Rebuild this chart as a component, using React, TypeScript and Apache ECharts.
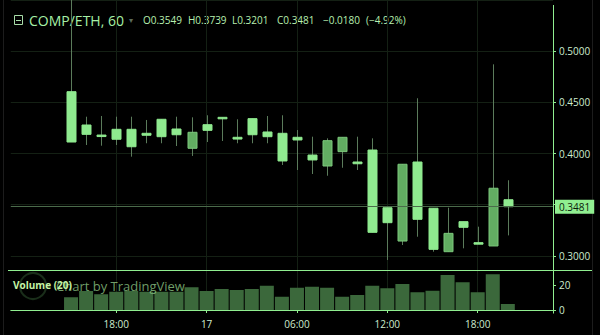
import React, { useEffect, useRef } from "react";
import * as echarts from "echarts";

// hourly categories (11:00 on the 16th to 23:00 on the 17th)
const hours: string[] = [
  "11:00", "12:00", "13:00", "14:00", "15:00", "16:00", "17:00", "18:00", "19:00", "20:00", "21:00", "22:00", "23:00",
  "00:00", "01:00", "02:00", "03:00", "04:00", "05:00", "06:00", "07:00", "08:00", "09:00", "10:00", "11:00",
  "12:00", "13:00", "14:00", "15:00", "16:00", "17:00", "18:00", "19:00", "20:00", "21:00", "22:00", "23:00",
];
const dayLabel = "17";
const firstCandleIndex = 4; // 15:00

const opens: number[] = [
  0.4603, 0.4278, 0.418, 0.4236, 0.4236, 0.4197, 0.4334, 0.4239, 0.4051, 0.4281,
  0.4353, 0.4158, 0.434, 0.421, 0.4197, 0.4158, 0.3985, 0.3878, 0.4018, 0.3917,
  0.4034, 0.3471, 0.3146, 0.3917, 0.3466, 0.3042, 0.3335, 0.313, 0.3098, 0.3549,
];
const closes: number[] = [
  0.4112, 0.4187, 0.4175, 0.4139, 0.4066, 0.4178, 0.4164, 0.4183, 0.4207, 0.4226,
  0.434, 0.4141, 0.4183, 0.4164, 0.3927, 0.4132, 0.3937, 0.4125, 0.4158, 0.39,
  0.3231, 0.3325, 0.3895, 0.3358, 0.3065, 0.3221, 0.328, 0.3117, 0.3661, 0.3481,
];
const lows: number[] = [
  0.4112, 0.4083, 0.4076, 0.4083, 0.3969, 0.41, 0.41, 0.4073, 0.3976, 0.4112,
  0.4122, 0.41, 0.41, 0.41, 0.3888, 0.3839, 0.38, 0.3783, 0.3861, 0.3839,
  0.3231, 0.2961, 0.3107, 0.3188, 0.3042, 0.3042, 0.3075, 0.3117, 0.3098, 0.3201,
];
const highs: number[] = [
  0.555, 0.4359, 0.4366, 0.4359, 0.4359, 0.4327, 0.4334, 0.4359, 0.4353, 0.4373,
  0.4353, 0.4334, 0.434, 0.4366, 0.4373, 0.4229, 0.4164, 0.4148, 0.4158, 0.4164,
  0.4148, 0.3471, 0.3895, 0.4539, 0.3466, 0.3471, 0.3335, 0.3286, 0.487, 0.3739,
];
const volumes: number[] = [
  10.2, 15.2, 12.6, 14.6, 15.2, 14.6, 14.6, 14.6, 18.2, 15.2,
  16.8, 16, 16.8, 19.4, 10.6, 17.8, 18.6, 17.8, 10.6, 12,
  19.4, 17.4, 20.8, 14.2, 15.4, 28, 22.2, 14.2, 28.6, 4.8,
];

const symbolTitle = "COMP/ETH, 60";
const volumeTitle = "Volume (20)";
const watermark = "Chart by TradingView";

const GREEN = "#90ee90";
const DOWN_FILL = "#8fea8f";
const UP_FILL = "#62ad62";
const UP_BORDER = "#7cc87c";
const WICK = "#5b7b5b";
const VOL = "#3b683b";
const LABEL = "#cfeccf";
const GRIDLINE = "#142014";
const FONT = "'Open Sans', 'DejaVu Sans', sans-serif";

export default function App() {
  const ref = useRef<HTMLDivElement>(null);

  useEffect(() => {
    if (!ref.current) return;
    const chart = echarts.init(ref.current, undefined, { renderer: "svg" });

    const n = opens.length;
    const last = n - 1;
    const lastClose = closes[last];
    const candleData = opens.map((o, i) => [i + firstCandleIndex, o, closes[i], lows[i], highs[i]]);
    const volData = volumes.map((v, i) => [i + firstCandleIndex, v]);
    const closeLine = closes.map((c, i) => [i + firstCandleIndex, c]);
    const change = closes[last] - closes[last - 1];
    const pct = (change / closes[last - 1]) * 100;
    const fmtSigned = (v: number, d: number) => (v < 0 ? "\u2212" : "+") + Math.abs(v).toFixed(d);
    const ohlcTexts = [
      "O" + opens[last].toFixed(4),
      "H" + highs[last].toFixed(4),
      "L" + lows[last].toFixed(4),
      "C" + closes[last].toFixed(4),
      fmtSigned(change, 4),
      "(" + fmtSigned(pct, 2) + "%)",
    ];
    const ohlcX = [143, 188, 232, 277, 323, 366];

    const xLabelInterval = (idx: number) => idx >= firstCandleIndex && idx % 6 === 1;
    const xFormatter = (v: string) => (v === "00:00" ? dayLabel : v);

    const gridLeft = 10.8;
    const gridRight = 47;

    const option: any = {
      animation: false,
      backgroundColor: "#000",
      textStyle: { fontFamily: FONT },
      grid: [
        { left: gridLeft, right: gridRight, top: 0, height: 270 },
        { left: gridLeft, right: gridRight, top: 270, height: 40 },
      ],
      xAxis: [
        {
          type: "category",
          gridIndex: 0,
          data: hours,
          boundaryGap: false,
          axisLine: { show: false },
          axisTick: { show: false },
          axisLabel: { show: false },
          splitLine: { show: true, interval: xLabelInterval, lineStyle: { color: GRIDLINE, width: 1 } },
        },
        {
          type: "category",
          gridIndex: 1,
          data: hours,
          boundaryGap: false,
          offset: 3,
          axisLine: { show: true, lineStyle: { color: GREEN, width: 1 } },
          axisTick: { show: true, interval: xLabelInterval, length: 3, lineStyle: { color: GREEN } },
          axisLabel: {
            show: true,
            interval: xLabelInterval,
            formatter: xFormatter,
            color: LABEL,
            fontSize: 10,
            margin: 6,
            fontFamily: FONT,
          },
          splitLine: { show: true, interval: xLabelInterval, lineStyle: { color: GRIDLINE, width: 1 } },
        },
      ],
      yAxis: [
        {
          type: "value",
          gridIndex: 0,
          position: "right",
          min: 0.28634,
          max: 0.54976,
          splitNumber: 5,
          axisLine: { show: false },
          axisTick: { show: true, length: 3, lineStyle: { color: GREEN } },
          axisLabel: {
            color: LABEL,
            fontSize: 10,
            margin: 6,
            showMinLabel: false,
            showMaxLabel: false,
            // the last-price tag covers the tick label nearest to it
            formatter: (v: number) => (Math.abs(v - lastClose) < 0.01 ? "" : v.toFixed(4)),
            fontFamily: FONT,
          },
          splitLine: { show: true, lineStyle: { color: GRIDLINE, width: 1 } },
        },
        {
          type: "value",
          gridIndex: 1,
          position: "right",
          min: 0,
          max: 32,
          interval: 20,
          axisLine: { show: false },
          axisTick: { show: true, length: 3, lineStyle: { color: GREEN } },
          axisLabel: { color: LABEL, fontSize: 10, margin: 6, showMaxLabel: false, fontFamily: FONT },
          splitLine: { show: false },
        },
      ],
      series: [
        {
          type: "bar",
          xAxisIndex: 1,
          yAxisIndex: 1,
          data: volData,
          barWidth: 14,
          itemStyle: { color: VOL },
        },
        {
          type: "custom",
          xAxisIndex: 0,
          yAxisIndex: 0,
          clip: true,
          encode: { x: 0, y: [1, 2, 3, 4] },
          data: candleData,
          renderItem: (params: any, api: any) => {
            const x = api.value(0);
            const o = api.value(1);
            const c = api.value(2);
            const l = api.value(3);
            const h = api.value(4);
            const pO = api.coord([x, o]);
            const pC = api.coord([x, c]);
            const pL = api.coord([x, l]);
            const pH = api.coord([x, h]);
            const cx = Math.round(pO[0]) + 0.5;
            const w = 9;
            const up = c > o;
            const top = Math.min(pO[1], pC[1]);
            let hgt = Math.abs(pO[1] - pC[1]);
            if (hgt < 1.5) hgt = 1.5;
            return {
              type: "group",
              children: [
                {
                  type: "line",
                  shape: { x1: cx, y1: pH[1], x2: cx, y2: pL[1] },
                  style: { stroke: WICK, lineWidth: 1 },
                },
                {
                  type: "rect",
                  shape: { x: cx - w / 2, y: top, width: w, height: hgt },
                  style: { fill: up ? UP_FILL : DOWN_FILL, stroke: up ? UP_BORDER : DOWN_FILL, lineWidth: 1 },
                },
              ],
            };
          },
          z: 3,
        },
        {
          type: "line",
          xAxisIndex: 0,
          yAxisIndex: 0,
          data: closeLine,
          symbol: "none",
          lineStyle: { opacity: 0 },
          silent: true,
          z: 2,
          markLine: {
            silent: true,
            symbol: "none",
            precision: 4,
            data: [{ yAxis: lastClose }],
            lineStyle: { color: "#4b6b4b", width: 1, type: "solid" },
            label: {
              show: true,
              position: "end",
              distance: 2,
              formatter: (p: any) => Number(p.value).toFixed(4),
              backgroundColor: GREEN,
              color: "#0b1a0b",
              fontSize: 10,
              padding: [2, 4, 2, 4],
              fontFamily: FONT,
            },
          },
        },
      ],
      graphic: [
        { type: "line", shape: { x1: 3.5, y1: 0, x2: 3.5, y2: 335 }, style: { stroke: "#1c1c1c", lineWidth: 1 }, silent: true },
        { type: "line", shape: { x1: 592.5, y1: 0, x2: 592.5, y2: 335 }, style: { stroke: "#1c1c1c", lineWidth: 1 }, silent: true },
        { type: "line", shape: { x1: 8, y1: 270.5, x2: 592, y2: 270.5 }, style: { stroke: GREEN, lineWidth: 1 }, silent: true, z: 10 },
        { type: "line", shape: { x1: 553.5, y1: 5, x2: 553.5, y2: 313.5 }, style: { stroke: GREEN, lineWidth: 1 }, silent: true, z: 10 },
        // title icon
        { type: "rect", shape: { x: 14.5, y: 15.5, width: 8, height: 9 }, style: { fill: "none", stroke: "#a8dca8", lineWidth: 1 }, silent: true },
        { type: "line", shape: { x1: 16, y1: 20.5, x2: 21, y2: 20.5 }, style: { stroke: "#a8dca8", lineWidth: 1 }, silent: true },
        {
          type: "text",
          x: 29,
          y: 20,
          style: { text: symbolTitle, fill: "#a6f0a6", font: `14px ${FONT}`, verticalAlign: "middle" },
          silent: true,
        },
        {
          type: "text",
          x: 129,
          y: 19,
          style: { text: "\u25BE", fill: "#5c6c5c", font: `8px ${FONT}`, verticalAlign: "middle" },
          silent: true,
        },
        ...ohlcTexts.map((t, i) => ({
          type: "text",
          x: ohlcX[i],
          y: 20,
          style: { text: t, fill: "#b8f0b0", font: `10px ${FONT}`, verticalAlign: "middle" },
          silent: true,
        })),
        // watermark
        { type: "circle", shape: { cx: 33, cy: 286, r: 13 }, style: { fill: "none", stroke: "#1a2e1a", lineWidth: 2 }, silent: true, z: 20 },
        {
          type: "text",
          x: 56,
          y: 286,
          style: { text: watermark, fill: "rgba(150,210,140,0.75)", font: `13px ${FONT}`, verticalAlign: "middle" },
          silent: true,
          z: 20,
        },
        {
          type: "text",
          x: 13,
          y: 285,
          style: { text: volumeTitle, fill: "#c4f4a4", font: `bold 10px ${FONT}`, verticalAlign: "middle" },
          silent: true,
          z: 21,
        },
      ],
    };

    chart.setOption(option);
    return () => chart.dispose();
  }, []);

  return (
    <div
      ref={ref}
      style={{ position: "absolute", left: 0, top: 0, width: 600, height: 335, background: "#000" }}
    />
  );
}
